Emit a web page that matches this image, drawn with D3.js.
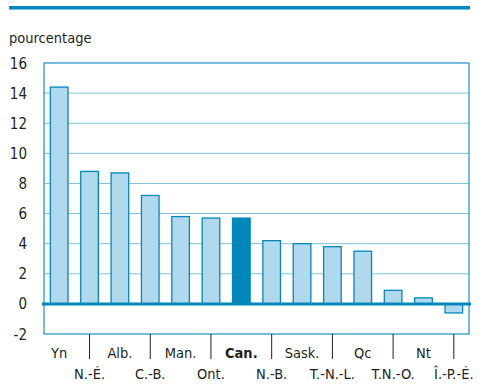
<!DOCTYPE html>
<html>
<head>
<meta charset="utf-8">
<script src="https://cdn.jsdelivr.net/npm/d3@7"></script>
<style>
  body { margin: 0; background: #fff; }
  svg text { font-family: "Liberation Sans Narrow", "Arial Narrow", "DejaVu Sans Condensed", sans-serif; fill: #231f20; }
</style>
</head>
<body>
<script>
const regions = ["Yn", "N.-É.", "Alb.", "C.-B.", "Man.", "Ont.", "Can.", "N.-B.", "Sask.", "T.-N.-L.", "Qc", "T.N.-O.", "Nt", "Î.-P.-É."];
const values = [14.4, 8.8, 8.7, 7.2, 5.8, 5.7, 5.7, 4.2, 4.0, 3.8, 3.5, 0.9, 0.4, -0.6];
const yTicks = [-2, 0, 2, 4, 6, 8, 10, 12, 14, 16];

const W = 483, H = 388;
const m = { left: 44, right: 14, top: 63, bottom: 54 };

const svg = d3.select("body").append("svg")
    .attr("width", W)
    .attr("height", H);

// top rule
svg.append("rect")
    .attr("x", 9).attr("y", 6)
    .attr("width", 461).attr("height", 3.5)
    .attr("fill", "#0088c0");

svg.append("text")
    .attr("x", 9).attr("y", 43)
    .attr("font-size", 14.5)
    .text("pourcentage");

const x = d3.scaleBand()
    .domain(regions)
    .range([m.left, W - m.right])
    .paddingInner(0.42)
    .paddingOuter(0.21);

const y = d3.scaleLinear()
    .domain([-2, 16])
    .range([H - m.bottom, m.top]);

// grid
svg.append("g")
    .selectAll("line")
    .data(yTicks.filter(d => d > 0 && d < 16))
    .join("line")
    .attr("x1", m.left).attr("x2", W - m.right)
    .attr("y1", d => y(d)).attr("y2", d => y(d))
    .attr("stroke", "#7cc0de")
    .attr("stroke-width", 1);

// y labels
svg.append("g")
    .selectAll("text")
    .data(yTicks)
    .join("text")
    .attr("x", 27)
    .attr("y", d => y(d) + 5.5)
    .attr("text-anchor", "end")
    .attr("font-size", 15)
    .text(d => d);

// bars
svg.append("g")
    .selectAll("rect")
    .data(regions)
    .join("rect")
    .attr("x", d => x(d))
    .attr("width", x.bandwidth())
    .attr("y", (d, i) => y(Math.max(0, values[i])))
    .attr("height", (d, i) => Math.abs(y(values[i]) - y(0)))
    .attr("fill", d => d === "Can." ? "#0088bb" : "#b1d9ed")
    .attr("stroke", "#0088bb")
    .attr("stroke-width", 1.3);

// plot frame
svg.append("rect")
    .attr("x", m.left).attr("y", m.top)
    .attr("width", W - m.left - m.right)
    .attr("height", H - m.top - m.bottom)
    .attr("fill", "none")
    .attr("stroke", "#1a8fc2")
    .attr("stroke-width", 1.2);

// zero line
svg.append("line")
    .attr("x1", m.left - 2).attr("x2", W - m.right + 2)
    .attr("y1", y(0)).attr("y2", y(0))
    .attr("stroke", "#0088bb")
    .attr("stroke-width", 3);

// category separators and labels
const cx = d => x(d) + x.bandwidth() / 2;
svg.append("g")
    .selectAll("line")
    .data(regions.filter((d, i) => i % 2 === 1))
    .join("line")
    .attr("x1", cx).attr("x2", cx)
    .attr("y1", H - m.bottom).attr("y2", H - m.bottom + 25)
    .attr("stroke", "#231f20")
    .attr("stroke-width", 1);

svg.append("g")
    .selectAll("text")
    .data(regions)
    .join("text")
    .attr("x", cx)
    .attr("y", (d, i) => i % 2 === 0 ? 358 : 379)
    .attr("text-anchor", "middle")
    .attr("font-size", 14.5)
    .attr("font-weight", d => d === "Can." ? "bold" : "normal")
    .text(d => d);
</script>
</body>
</html>
